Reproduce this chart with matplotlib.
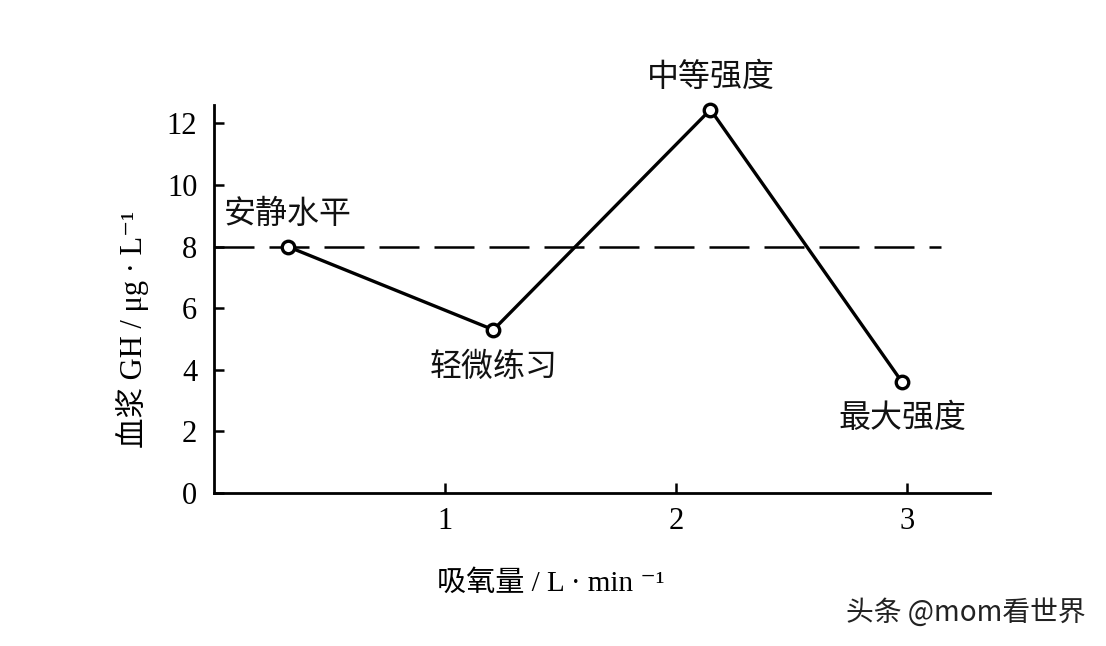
import matplotlib
matplotlib.use("Agg")
import matplotlib.pyplot as plt

# Data
x_vals = [0.32, 1.21, 2.15, 2.98]
y_vals = [8.0, 5.3, 12.45, 3.6]
point_labels = ["安静水平", "轻微练习", "中等强度", "最大强度"]
baseline = 8.0
x_ticks = [1, 2, 3]
y_ticks = [0, 2, 4, 6, 8, 10, 12]

plt.rcParams['font.family'] = ['Noto Sans CJK SC', 'DejaVu Sans']
serif = ['Liberation Serif', 'DejaVu Serif']
mixed = ['Liberation Serif', 'Noto Sans CJK SC', 'DejaVu Sans']

fig = plt.figure(figsize=(11.06, 6.46), dpi=100)
ax = fig.add_axes([0.1935, 0.2368, 0.7015, 0.6007])

ax.set_xlim(0, 3.36)
ax.set_ylim(0, 12.6)

# baseline dashed line
ax.plot([0, 3.15], [baseline, baseline], color='black', lw=1.8,
        dashes=(16, 6), zorder=2)
# main line
ax.plot(x_vals, y_vals, color='black', lw=2.4, marker='o', ms=9,
        mfc='white', mec='black', mew=2.4, zorder=3, clip_on=False)

offsets = [(0, 1.05), (0, -1.2), (0, 1.05), (0, -1.15)]
for x, y, lab, (dx, dy) in zip(x_vals, y_vals, point_labels, offsets):
    ax.text(x + dx, y + dy, lab, ha='center', va='center', fontsize=23,
            color='#111111', fontweight='medium')

for s in ['top', 'right']:
    ax.spines[s].set_visible(False)
for s in ['left', 'bottom']:
    ax.spines[s].set_linewidth(2.0)

ax.set_xticks(x_ticks)
ax.set_yticks(y_ticks)
ax.set_xticklabels([str(t) for t in x_ticks], family=serif, fontsize=22)
ax.set_yticklabels([str(t) for t in y_ticks], family=serif, fontsize=22)
ax.tick_params(axis='both', direction='in', length=7, width=1.8, pad=10)
ax.tick_params(axis='y', pad=12)

fig.text(0.395, 0.097, "吸氧量 / L · min ⁻¹", fontsize=21, ha='left', va='center',
         family=mixed)
fig.text(0.12, 0.49, "血浆 GH / μg · L⁻¹", fontsize=22, rotation=90,
         ha='center', va='center', family=mixed)

fig.text(0.873, 0.052, "头条 @mom看世界", fontsize=20, ha='center', va='center',
         color='#222222')

fig.savefig("out.png", dpi=100)
